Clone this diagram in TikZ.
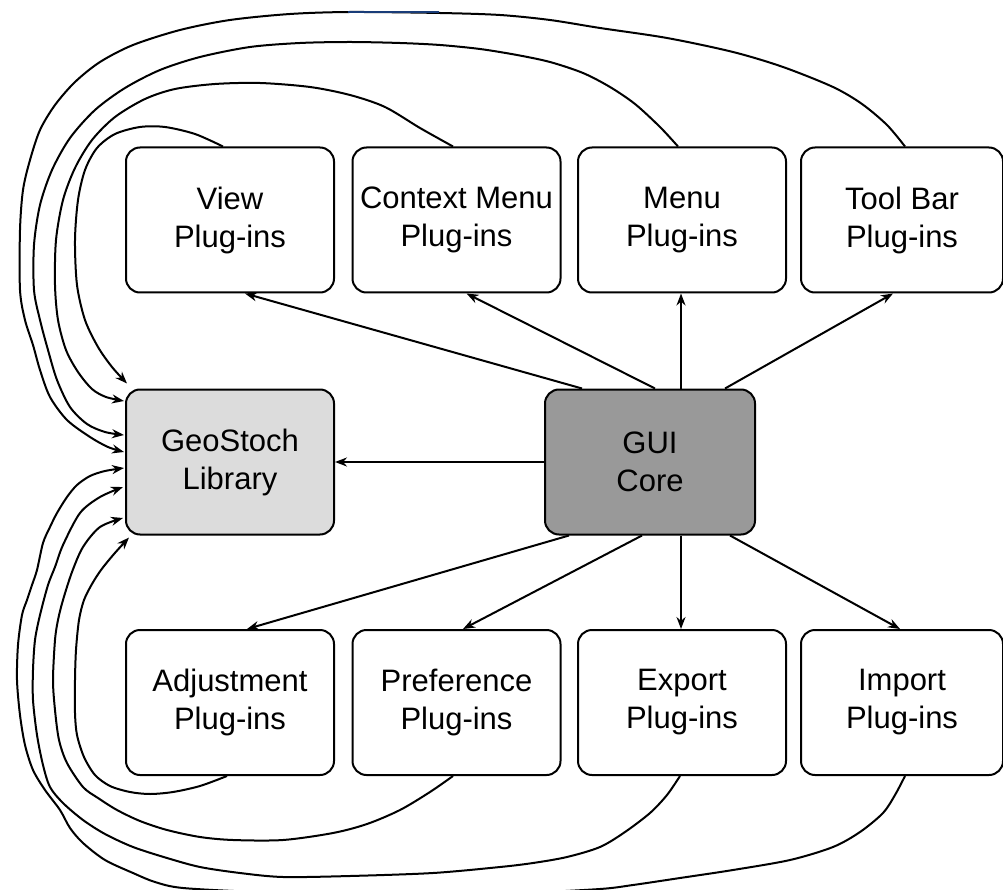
\documentclass[tikz,border=0pt]{standalone}
\usepackage{fontspec}
\setmainfont{Liberation Sans}
\usetikzlibrary{arrows.meta,calc}
\definecolor{libfill}{RGB}{220,220,220}
\definecolor{corefill}{RGB}{153,153,153}
\definecolor{selblue}{RGB}{25,60,120}
\begin{document}
\begin{tikzpicture}[x=1pt,y=-1pt,
  box/.style={draw=black, line width=2pt, rounded corners=14pt, fill=white,
    align=center, inner sep=0pt, font=\fontsize{31}{38}\selectfont,
    minimum height=145pt, minimum width=208pt},
  edgebox/.style={minimum width=202pt},
  tipstyle/.style={-{Stealth[length=12pt,width=9pt]}},
  conn/.style={line width=2pt, tipstyle},
  backcurve/.style={line width=2pt, tipstyle, line join=round}]
\useasboundingbox (0,0) rectangle (1003,890);

% plug-in boxes, top row
\node[box] (view) at (230,220)   {View\\Plug-ins};
\node[box] (ctx)  at (456.5,220) {Context Menu\\Plug-ins};
\node[box] (menu) at (682,220)   {Menu\\Plug-ins};
\node[box,edgebox] (tool) at (902,220) {Tool Bar\\Plug-ins};

% library and core
\node[box,fill=libfill]  (geo) at (230,462) {GeoStoch\\Library};
\node[box,fill=corefill,minimum width=210pt] (gui) at (650,462) {GUI\\Core};

% plug-in boxes, bottom row
\node[box] (adj)  at (230,702.5)   {Adjustment\\Plug-ins};
\node[box] (pref) at (456.5,702.5) {Preference\\Plug-ins};
\node[box] (expo) at (682,702.5)   {Export\\Plug-ins};
\node[box,edgebox] (impo) at (902,702.5) {Import\\Plug-ins};

% core to plug-ins and library
\draw[conn] ($(gui.north west)+(38,0)$) -- ($(view.south)+(15,0)$);
\draw[conn] ($(gui.north)+(5,0)$) -- ($(ctx.south)+(10,0)$);
\coordinate (mu) at ($(gui.north)+(31,0)$);
\draw[conn] (mu) -- (mu |- menu.south);
\draw[conn] ($(gui.north)+(75,0)$) -- ($(tool.south)+(-9,0)$);
\draw[conn] (gui.west) -- (geo.east);
\draw[conn] ($(gui.south west)+(25,0)$) -- ($(adj.north)+(17,0)$);
\draw[conn] ($(gui.south)+(-8,0)$) -- ($(pref.north)+(6.5,0)$);
\coordinate (md) at ($(gui.south)+(31,0)$);
\draw[conn] (md) -- (md |- expo.north);
\draw[conn] ($(gui.south)+(80,0)$) -- ($(impo.north)+(-2,0)$);

% start and end points of the loops into the library
\coordinate (t1s) at ($(view.north)+(-7,0)$);
\coordinate (t2s) at ($(ctx.north)+(-3.5,0)$);
\coordinate (t3s) at ($(menu.north)+(-4,0)$);
\coordinate (t4s) at ($(tool.north)+(3,0)$);
\coordinate (b1s) at ($(adj.south)+(-3,0)$);
\coordinate (b2s) at ($(pref.south)+(-3.5,0)$);
\coordinate (b3s) at ($(expo.south)+(-2,0)$);
\coordinate (b4s) at ($(impo.south)+(3,0)$);
\coordinate (g1) at ($(geo.north west)+(2,-5)$);
\coordinate (g2) at ($(geo.west)+(-1,-61)$);
\coordinate (g3) at ($(geo.west)+(-1,-27)$);
\coordinate (g4) at ($(geo.west)+(-1,-10)$);
\coordinate (g5) at ($(geo.west)+(-1,6)$);
\coordinate (g6) at ($(geo.west)+(-2,25)$);
\coordinate (g7) at ($(geo.west)+(-2,56)$);
\coordinate (g8) at ($(geo.south west)+(4,2)$);

% loops from the top row
\draw[backcurve] plot[smooth,tension=0.5] coordinates {(t1s) (195,134) (165,127) (140,127) (115,134) (97,148) (85,170) (78,200) (75,240) (77,285) (85,320) (98,347) (112,367) (g1)};
\draw[backcurve] plot[smooth,tension=0.5] coordinates {(t2s) (420,128) (385,107) (350,95) (310,87) (260,83) (215,84) (175,89) (145,99) (115,117) (92,140) (75,168) (63,200) (56,240) (55,285) (58,320) (66,350) (78,372) (92,389) (106,397) (g2)};
\draw[backcurve] plot[smooth,tension=0.5] coordinates {(t3s) (660,127) (635,104) (610,87) (583,73) (550,62) (517,55) (480,49) (440,45) (400,43) (350,42) (300,43) (250,47) (200,57) (160,70) (125,88) (95,110) (70,138) (52,170) (40,205) (34,245) (34,290) (40,320) (48,350) (57,380) (70,407) (87,424) (105,432) (g3)};
\draw[backcurve] plot[smooth,tension=0.5] coordinates {(t4s) (887,125) (862,104) (833,87) (783,67) (733,52) (667,38) (600,28) (550,20) (500,15) (440,13) (350,12) (290,14) (230,20) (180,30) (133,45) (100,62) (75,82) (55,105) (40,130) (30,160) (23,190) (20,230) (20,290) (25,320) (33,345) (40,370) (50,397) (67,420) (90,437) (108,447) (g4)};

% loops from the bottom row
\draw[backcurve] plot[smooth,tension=0.5] coordinates {(b1s) (200,786) (173,792) (150,794) (130,792) (110,786) (95,775) (84,757) (77,735) (75,713) (75,680) (76,650) (79,620) (84,600) (92,584) (101,570) (114,554) (g8)};
\draw[backcurve] plot[smooth,tension=0.5] coordinates {(b2s) (430,792) (400,810) (367,824) (333,833) (283,840) (233,840) (200,837) (167,830) (140,821) (117,810) (98,798) (83,787) (67,763) (59,740) (55,710) (53,680) (55,640) (58,620) (63,600) (72,572) (83,547) (100,527) (g7)};
\draw[backcurve] plot[smooth,tension=0.5] coordinates {(b3s) (667,795) (650,813) (625,832) (600,847) (567,857) (533,863) (500,867) (433,873) (350,876) (283,877) (240,873) (200,867) (167,858) (133,847) (105,834) (83,820) (63,803) (50,787) (43,765) (37,735) (33,700) (33,670) (35,640) (40,615) (48,585) (55,567) (63,545) (80,513) (100,497) (g6)};
\draw[backcurve] plot[smooth,tension=0.5] coordinates {(b4s) (895,795) (883,813) (860,832) (833,847) (790,860) (733,870) (680,878) (633,885) (600,889) (520,893) (440,894) (350,893) (260,892) (183,888) (155,882) (133,873) (105,860) (83,843) (70,828) (60,810) (45,790) (33,770) (25,745) (20,715) (17,680) (18,645) (22,615) (27,600) (32,585) (37,570) (43,543) (50,527) (57,513) (67,497) (77,485) (90,476) (105,471) (g5)};

% highlighted piece of the outer loop
\draw[selblue, line width=2.5pt] (348,12) -- (439,12);
\end{tikzpicture}
\end{document}
